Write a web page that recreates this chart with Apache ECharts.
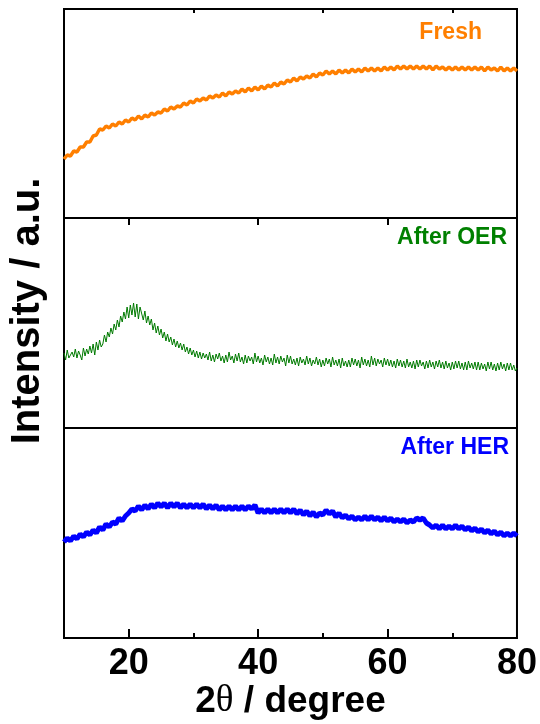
<!DOCTYPE html>
<html>
<head>
<meta charset="utf-8">
<script src="https://cdn.jsdelivr.net/npm/echarts@6/dist/echarts.min.js"></script>
<style>
  html, body { margin: 0; padding: 0; background: #fff; }
  #chart { width: 540px; height: 724px; }
</style>
</head>
<body>
<div id="chart"></div>
<script>
// XRD scans, 2θ from 10° to 80°
const scanStart = 10;
const freshStep = 0.5;
const oerStep = 0.25;
const herStep = 0.5;

const sampleNames = ['Fresh', 'After OER', 'After HER'];
const sampleColors = ['#ff7f00', '#007a00', '#0000ff'];

const majorTicks = [20, 40, 60];
const minorTicks = [30, 50, 70];
const tickLabels = [20, 40, 60, 80];

// Intensities (a.u.), one value per step, rows of 10° each
const freshIntensity = [
  59, 63, 62, 67, 66, 71, 71, 76, 76, 82, 83, 89, 88, 92, 90, 94, 92, 96, 94, 98,
  96, 100, 98, 102, 99, 103, 101, 105, 103, 106, 105, 109, 107, 111, 109, 112, 111, 115, 113, 117,
  115, 119, 117, 120, 118, 122, 120, 123, 121, 125, 122, 126, 124, 127, 125, 129, 126, 130, 127, 131,
  128, 132, 129, 133, 131, 135, 132, 136, 134, 138, 136, 140, 137, 141, 139, 142, 140, 144, 141, 145,
  143, 147, 144, 147, 144, 148, 145, 148, 145, 149, 146, 149, 146, 150, 147, 150, 147, 150, 147, 151,
  148, 151, 148, 152, 149, 152, 149, 152, 149, 152, 149, 152, 149, 152, 148, 152, 149, 151, 148, 151,
  148, 151, 148, 151, 148, 151, 148, 151, 148, 151, 147, 151, 148, 150, 147, 151, 147, 150, 147, 150,
  147
];

const oerIntensity = [
  75, 68, 78, 70, 69, 76, 71, 79, 70, 77, 73, 68, 80, 72, 79, 74, 82, 75, 84, 73,
  86, 78, 88, 81, 84, 93, 86, 96, 91, 100, 94, 104, 98, 108, 101, 112, 106, 116, 109, 121,
  110, 123, 113, 125, 111, 124, 109, 121, 119, 108, 117, 105, 112, 103, 109, 98, 105, 95, 102, 93,
  99, 90, 96, 87, 94, 86, 91, 83, 89, 81, 87, 80, 85, 78, 84, 76, 81, 74, 80, 73,
  78, 71, 77, 70, 76, 69, 75, 70, 74, 68, 76, 67, 73, 66, 74, 69, 75, 67, 72, 65,
  73, 66, 76, 68, 72, 65, 74, 67, 75, 66, 71, 64, 73, 65, 72, 67, 71, 64, 75, 66,
  72, 65, 70, 63, 73, 66, 71, 64, 70, 63, 74, 65, 71, 64, 72, 66, 70, 62, 73, 65,
  72, 64, 69, 63, 70, 62, 71, 65, 69, 63, 72, 64, 70, 62, 68, 64, 71, 63, 69, 61,
  68, 62, 70, 64, 69, 61, 71, 63, 68, 62, 69, 60, 70, 62, 67, 61, 68, 61, 70, 63,
  69, 62, 68, 60, 71, 63, 69, 62, 68, 61, 72, 63, 70, 62, 69, 64, 68, 61, 70, 63,
  69, 62, 68, 61, 67, 60, 69, 62, 68, 61, 67, 60, 69, 61, 66, 60, 67, 59, 68, 61,
  68, 62, 66, 59, 67, 60, 68, 61, 66, 59, 67, 61, 68, 60, 66, 59, 67, 60, 65, 58,
  66, 59, 67, 60, 67, 59, 65, 58, 66, 58, 67, 60, 65, 59, 66, 58, 66, 58, 65, 59,
  64, 57, 66, 59, 66, 58, 64, 57, 65, 58, 66, 59, 64, 57, 65, 58, 65, 58, 63, 57,
  60
];

const herIntensity = [
  96, 100, 97, 102, 99, 104, 101, 106, 103, 108, 105, 111, 108, 114, 111, 116, 114, 120, 117, 122,
  125, 129, 127, 132, 128, 133, 129, 134, 130, 135, 131, 135, 130, 135, 131, 135, 130, 134, 130, 134,
  130, 134, 130, 134, 129, 133, 129, 133, 128, 132, 128, 132, 128, 132, 128, 132, 128, 132, 129, 133,
  125, 129, 125, 129, 125, 129, 125, 129, 125, 129, 125, 129, 124, 128, 123, 127, 122, 126, 121, 125,
  123, 128, 124, 127, 121, 125, 120, 123, 119, 122, 118, 121, 118, 122, 118, 122, 118, 121, 117, 121,
  117, 120, 116, 119, 116, 119, 115, 118, 116, 120, 118, 120, 115, 113, 110, 113, 109, 113, 109, 112,
  109, 113, 109, 112, 108, 111, 107, 110, 106, 109, 105, 108, 104, 107, 103, 106, 102, 105, 102, 105,
  102
];

const intensities = [freshIntensity, oerIntensity, herIntensity];
const steps = [freshStep, oerStep, herStep];

function pairs(values, step) {
  return values.map((v, i) => [scanStart + i * step, v]);
}

const fontMain = '"Liberation Sans", Arial, sans-serif';

// three stacked panels sharing the 2θ range
const panelLeft = 64;
const panelWidth = 453;
const panelTops = [9, 218, 428];
const panelHeights = [209, 210, 210];

const grids = panelTops.map((t, i) => ({
  left: panelLeft, top: t, width: panelWidth, height: panelHeights[i],
  show: true, borderColor: '#000', borderWidth: 2, backgroundColor: 'transparent'
}));

function tickAxis(gridIndex, position, values, len, labels) {
  return {
    type: 'value', gridIndex, position, min: 10, max: 80,
    axisLine: { show: false },
    splitLine: { show: false },
    axisTick: {
      show: values.length > 0, inside: true, length: len,
      customValues: values,
      lineStyle: { color: '#000', width: 2 }
    },
    axisLabel: labels ? {
      show: true, customValues: labels, margin: 8,
      color: '#000', fontSize: 36, fontWeight: 'bold', fontFamily: fontMain
    } : { show: false }
  };
}

const xAxes = [
  tickAxis(0, 'top', majorTicks, 7),
  tickAxis(0, 'top', minorTicks, 4),
  tickAxis(1, 'bottom', [], 0),
  Object.assign(tickAxis(2, 'bottom', majorTicks, 9, tickLabels), {
    name: '{n|2}{t|θ}{n| / degree}',
    nameLocation: 'middle',
    nameGap: 43,
    nameTextStyle: {
      rich: {
        n: { fontSize: 37, fontWeight: 'bold', fontFamily: fontMain, color: '#000' },
        t: { fontSize: 37, fontWeight: 'normal', fontFamily: '"Liberation Serif", serif', color: '#000' }
      }
    }
  }),
  tickAxis(2, 'bottom', minorTicks, 5)
];

const yAxes = [0, 1, 2].map(i => ({
  type: 'value', gridIndex: i, min: 0, max: panelHeights[i], show: false
}));

const lineWidths = [3.5, 1, 5];

const series = intensities.map((vals, i) => ({
  type: 'line', name: sampleNames[i],
  xAxisIndex: i === 0 ? 0 : (i === 1 ? 2 : 3),
  yAxisIndex: i,
  data: pairs(vals, steps[i]),
  showSymbol: false, symbol: 'none',
  lineStyle: { color: sampleColors[i], width: lineWidths[i] },
  clip: true, animation: false
}));

const labelRights = [58, 33, 31];
const labelTops = [21, 226, 436];
const labelColors = ['#ff7f00', '#008000', '#0000ff'];
const titles = sampleNames.map((n, i) => ({
  text: n, right: labelRights[i], top: labelTops[i], padding: 0,
  textStyle: { color: labelColors[i], fontSize: 23, fontWeight: 'bold', fontFamily: fontMain }
}));

const chart = echarts.init(document.getElementById('chart'), null, { renderer: 'canvas' });
chart.setOption({
  animation: false,
  backgroundColor: '#fff',
  title: titles,
  grid: grids,
  xAxis: xAxes,
  yAxis: yAxes,
  series,
  graphic: [{
    type: 'text', x: 28, y: 311, rotation: Math.PI / 2,
    style: {
      text: 'Intensity / a.u.', fill: '#000',
      font: 'bold 40px ' + fontMain,
      align: 'center', verticalAlign: 'middle',
      textAlign: 'center', textVerticalAlign: 'middle'
    }
  }]
});
</script>
</body>
</html>
